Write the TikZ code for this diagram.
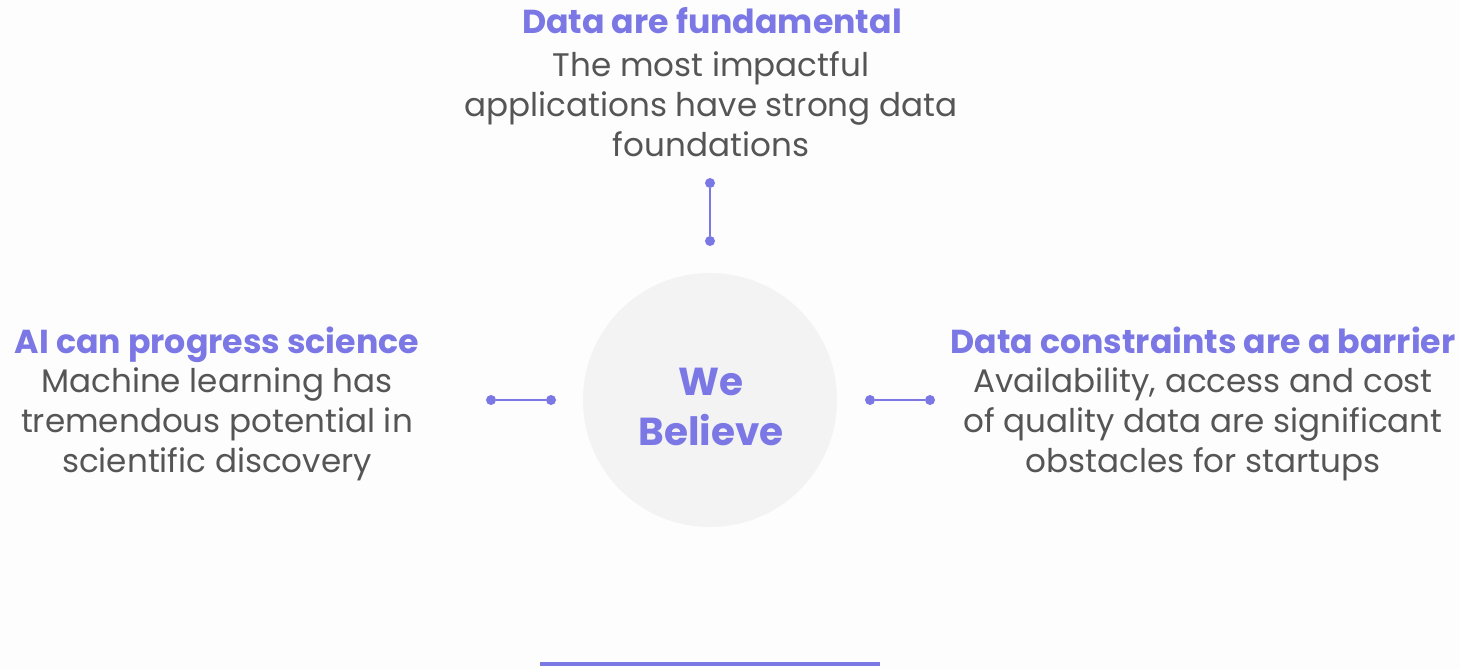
\documentclass[tikz,border=0pt]{standalone}
\usepackage{fontspec}
\setmainfont{Poppins}
\definecolor{accent}{HTML}{7B78E6}
\definecolor{bodygray}{HTML}{555555}
\definecolor{circfill}{HTML}{F3F3F3}
\definecolor{bgcol}{HTML}{FDFDFD}
\tikzset{
  title/.style={font=\fontsize{16.6}{20}\selectfont\bfseries, text=accent, inner sep=0pt, anchor=base},
  body/.style={font=\fontsize{16.3}{20}\selectfont, text=bodygray, inner sep=0pt, align=center, anchor=base},
  dot/.style={circle, fill=accent, inner sep=0pt, minimum size=5pt},
  link/.style={draw=accent, line width=1.4pt},
}
\begin{document}
\begin{tikzpicture}[x=0.5pt,y=-0.5pt]
\fill[bgcol] (0,0) rectangle (1460,669);
\useasboundingbox (0,0) rectangle (1460,669);
% central circle
\node[circle, fill=circfill, minimum size=127pt, inner sep=0pt] (c) at (710,400) {};
\node[font=\fontsize{19.5}{25}\selectfont\bfseries, text=accent, align=center] (we) at (711,407) {We\\Believe};
% top
\node[title] (t1) at (712,33) {Data are fundamental};
\node[body] (b1) at (711,156) {The most impactful\\applications have strong data\\foundations};
% left
\node[title] (t2) at (217,353) {AI can progress science};
\node[body] (b2) at (217,472) {Machine learning has\\tremendous potential in\\scientific discovery};
% right
\node[title] (t3) at (1203,353) {Data constraints are a barrier};
\node[body] (b3) at (1203,472) {Availability, access and cost\\of quality data are significant\\obstacles for startups};
% connectors
\node[dot] (u1) at (710,183) {};
\node[dot] (u2) at (710,241) {};
\draw[link] (u1) -- (u2);
\node[dot] (l1) at (491,400) {};
\node[dot] (l2) at (551,400) {};
\draw[link] (l1) -- (l2);
\node[dot] (r1) at (870,400) {};
\node[dot] (r2) at (930,400) {};
\draw[link] (r1) -- (r2);
% bottom rule
\coordinate (h1) at (540,664);
\coordinate (h2) at (880,664);
\draw[draw=accent, line width=2pt] (h1) -- (h2);
\end{tikzpicture}
\end{document}
